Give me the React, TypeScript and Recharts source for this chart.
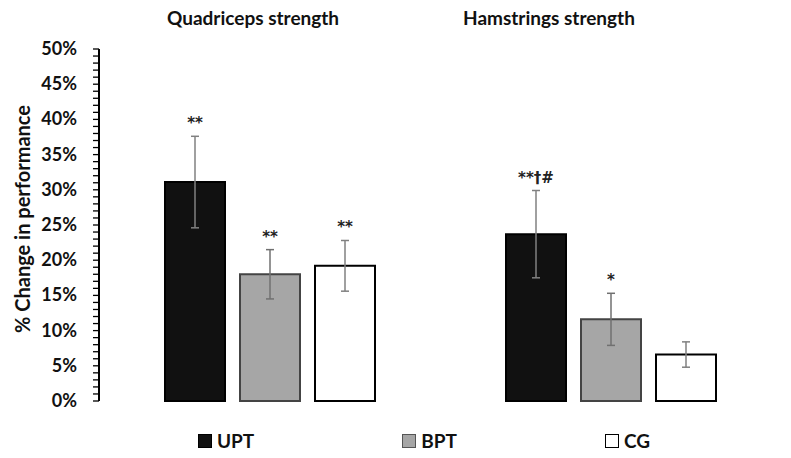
import { BarChart, Bar, XAxis, YAxis, ErrorBar, LabelList } from "recharts";

// groups + series
const groups = ["Quadriceps strength", "Hamstrings strength"];
const seriesNames = ["UPT", "BPT", "CG"];

const uptValues = [31.1, 23.7];
const uptErrors = [6.5, 6.2];
const bptValues = [18.0, 11.6];
const bptErrors = [3.5, 3.7];
const cgValues = [19.2, 6.6];
const cgErrors = [3.6, 1.8];

// significance marks above the error bars
const uptMarks = ["**", "**\u2020#"];
const bptMarks = ["**", "*"];
const cgMarks = ["**", ""];

const yTickLabels = ["0%", "5%", "10%", "15%", "20%", "25%", "30%", "35%", "40%", "45%", "50%"];
const yMinorTicks = Array.from({ length: 51 }, (_, i) => i);

const data = groups.map((g, i) => ({
  group: g,
  upt: uptValues[i],
  uptErr: uptErrors[i],
  bpt: bptValues[i],
  bptErr: bptErrors[i],
  cg: cgValues[i],
  cgErr: cgErrors[i],
}));

const FONT = "Lato, 'Open Sans', sans-serif";
const TICK_MARGIN = 16;
const TICK_LEN = 6;
const titleLeft = [167, 463];
const swatches = [
  { fill: "#111111", border: "#000000" },
  { fill: "#a6a6a6", border: "#555555" },
  { fill: "#ffffff", border: "#000000" },
];

const markLabel = (marks: string[], errs: number[]) => (props: any) => {
  const { x, y, width, height, value, index } = props;
  if (!marks[index]) return null;
  const errPx = (errs[index] * Number(height)) / Number(value);
  return (
    <text
      x={Number(x) + Number(width) / 2}
      y={Number(y) - errPx - 8}
      textAnchor="middle"
      fontFamily="'DejaVu Sans', sans-serif"
      fontWeight="bold"
      fontSize={15}
      fill="#222"
    >
      {marks[index]}
    </text>
  );
};

// every 1% gets a small tick, every 5% gets a label
const YTick = (props: any) => {
  const { x, y, payload } = props;
  const axisX = x + TICK_MARGIN + TICK_LEN;
  const major = payload.value % 5 === 0;
  return (
    <g>
      <line x1={axisX - TICK_LEN} x2={axisX} y1={y} y2={y} stroke="#000" strokeWidth={1.3} />
      {major && (
        <text x={x} y={y + 6} textAnchor="end" fontFamily={FONT} fontWeight="bold" fontSize={18} fill="#111">
          {yTickLabels[payload.value / 5]}
        </text>
      )}
    </g>
  );
};

export default function App() {
  return (
    <div style={{ position: "absolute", left: 0, top: 0, width: 791, height: 458, background: "#fff" }}>
      <BarChart
        width={791}
        height={458}
        data={data}
        margin={{ top: 49, right: 10, left: 0, bottom: 57 }}
        barSize={60}
        barGap={15}
      >
        <XAxis dataKey="group" tick={false} tickLine={false} height={0} axisLine={{ stroke: "#000", strokeWidth: 2 }} />
        <YAxis
          type="number"
          domain={[0, 50]}
          ticks={yMinorTicks}
          interval={0}
          width={99}
          tickSize={TICK_LEN}
          tickMargin={TICK_MARGIN}
          tick={<YTick />}
          tickLine={false}
          axisLine={{ stroke: "#000", strokeWidth: 2 }}
          label={{
            content: () => (
              <text
                x={22}
                y={219}
                transform="rotate(-90, 22, 219)"
                textAnchor="middle"
                dominantBaseline="central"
                fontFamily={FONT}
                fontWeight="bold"
                fontSize={20}
                fill="#111"
              >
                % Change in performance
              </text>
            ),
          }}
        />
        <Bar dataKey="upt" name={seriesNames[0]} fill="#111111" stroke="#000" strokeWidth={2} isAnimationActive={false}>
          <ErrorBar dataKey="uptErr" direction="y" width={4} stroke="#808080" strokeWidth={1.5} />
          <LabelList dataKey="upt" content={markLabel(uptMarks, uptErrors)} />
        </Bar>
        <Bar dataKey="bpt" name={seriesNames[1]} fill="#a6a6a6" stroke="#444" strokeWidth={2} isAnimationActive={false}>
          <ErrorBar dataKey="bptErr" direction="y" width={4} stroke="#707070" strokeWidth={1.5} />
          <LabelList dataKey="bpt" content={markLabel(bptMarks, bptErrors)} />
        </Bar>
        <Bar dataKey="cg" name={seriesNames[2]} fill="#ffffff" stroke="#000" strokeWidth={2} isAnimationActive={false}>
          <ErrorBar dataKey="cgErr" direction="y" width={4} stroke="#808080" strokeWidth={1.5} />
          <LabelList dataKey="cg" content={markLabel(cgMarks, cgErrors)} />
        </Bar>
      </BarChart>

      {groups.map((g, i) => (
        <div
          key={g}
          style={{
            position: "absolute",
            left: titleLeft[i],
            top: 6,
            fontFamily: FONT,
            fontWeight: "bold",
            fontSize: 19,
            color: "#111",
            whiteSpace: "nowrap",
          }}
        >
          {g}
        </div>
      ))}

      <div
        style={{
          position: "absolute",
          left: 198,
          top: 429,
          display: "flex",
          gap: 148,
          fontFamily: FONT,
          fontWeight: "bold",
          fontSize: 19,
          color: "#111",
        }}
      >
        {seriesNames.map((s, i) => (
          <div key={s} style={{ display: "flex", alignItems: "center", gap: 5 }}>
            <span
              style={{
                display: "inline-block",
                width: 12,
                height: 12,
                background: swatches[i].fill,
                border: `1.5px solid ${swatches[i].border}`,
              }}
            />
            <span>{s}</span>
          </div>
        ))}
      </div>
    </div>
  );
}
